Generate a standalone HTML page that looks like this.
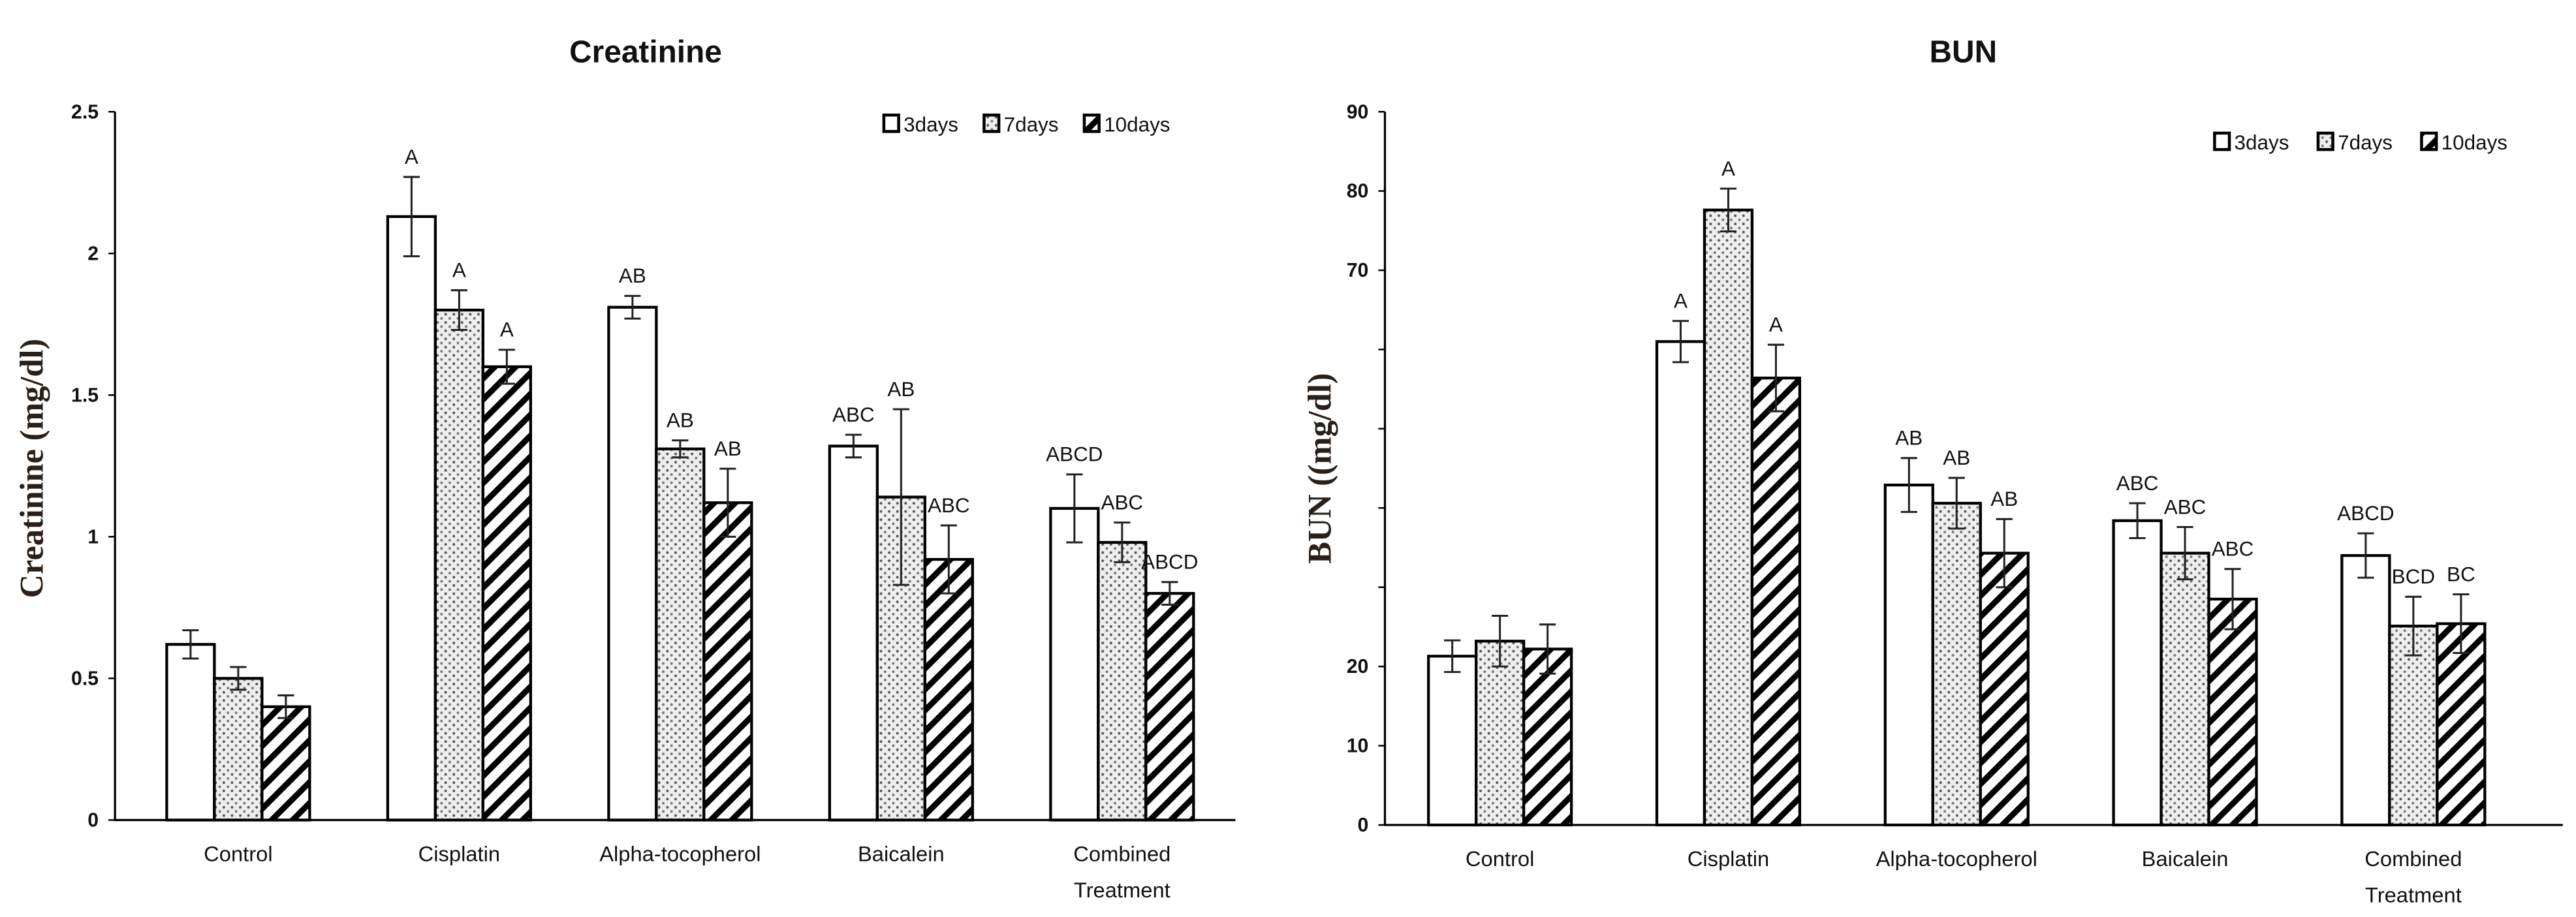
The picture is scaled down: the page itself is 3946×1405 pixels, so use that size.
<!DOCTYPE html>
<html><head><meta charset="utf-8"><style>
html,body{margin:0;padding:0;background:#fff;}
svg{display:block;}
text{font-family:"Liberation Sans",sans-serif;fill:#111;}
text.serif{font-family:"Liberation Serif",serif;}
</style></head><body>
<svg id="chart" width="3946" height="1405" viewBox="0 0 1568 558" preserveAspectRatio="none" xmlns="http://www.w3.org/2000/svg">
<defs>
<pattern id="dots" patternUnits="userSpaceOnUse" width="5" height="5">
<rect width="5" height="5" fill="#eee"/>
<circle cx="1.25" cy="1.25" r="0.8" fill="#555"/>
<circle cx="3.75" cy="3.75" r="0.8" fill="#777"/>
</pattern>
<pattern id="hatch" patternUnits="userSpaceOnUse" width="9" height="9" patternTransform="rotate(45)">
<rect width="9" height="9" fill="#fff"/>
<rect x="0" y="0" width="3.6" height="9" fill="#000"/>
</pattern>
</defs>
<g id="g1"></g>
<g id="g2"></g>
</svg>
<script>
const categories = ["Control","Cisplatin","Alpha-tocopherol","Baicalein","Combined Treatment"];
const seriesNames = ["3days","7days","10days"];
const creat3 = [0.62,2.13,1.81,1.32,1.10];
const creat7 = [0.50,1.80,1.31,1.14,0.98];
const creat10 = [0.40,1.60,1.12,0.92,0.80];
const creatErr3 = [0.05,0.14,0.04,0.04,0.12];
const creatErr7 = [0.04,0.07,0.03,0.31,0.07];
const creatErr10 = [0.04,0.06,0.12,0.12,0.04];
const creatLbl3 = ["","A","AB","ABC","ABCD"];
const creatLbl7 = ["","A","AB","AB","ABC"];
const creatLbl10 = ["","A","AB","ABC","ABCD"];
const creatTicks = [0,0.5,1,1.5,2,2.5];
const creatTickLabels = ["0","0.5","1","1.5","2","2.5"];
const bun3 = [21.3,61.0,42.9,38.4,34.0];
const bun7 = [23.2,77.6,40.6,34.3,25.1];
const bun10 = [22.2,56.4,34.3,28.5,25.4];
const bunErr3 = [2.0,2.6,3.4,2.2,2.8];
const bunErr7 = [3.2,2.7,3.2,3.3,3.7];
const bunErr10 = [3.1,4.2,4.3,3.8,3.7];
const bunLbl3 = ["","A","AB","ABC","ABCD"];
const bunLbl7 = ["","A","AB","ABC","BCD"];
const bunLbl10 = ["","A","AB","ABC","BC"];
const bunTicks = [0,10,20,30,40,50,60,70,80,90];
const bunTickLabels = ["0","10","20","","","","","70","80","90"];

const NS="http://www.w3.org/2000/svg";
function mk(parent,tag,attrs,txt){const e=document.createElementNS(NS,tag);for(const k in attrs)e.setAttribute(k,attrs[k]);if(txt!==undefined)e.textContent=txt;parent.appendChild(e);return e;}
const fills=["#fff","url(#dots)","url(#hatch)"];

function drawChart(g,cfg){
  const yS=v=>cfg.y0-(v/cfg.max)*(cfg.y0-cfg.yTop);
  const xC=i=>cfg.c0+i*cfg.step;
  const t=mk(g,'text',{x:cfg.titleX,y:38,'font-size':19,'font-weight':'bold','text-anchor':'middle'},cfg.title);
  
  
  const yt=mk(g,'text',{x:0,y:0,'class':'serif','font-size':20,'font-weight':'bold','text-anchor':'middle',transform:`translate(${cfg.ytX},${cfg.ytY}) rotate(-90)`,style:'fill:#2a2018'},cfg.yTitle);
  
  
  cfg.ticks.forEach((v,i)=>{
    const y=yS(v);
    const tk=mk(g,'line',{x1:cfg.ax-4,x2:cfg.ax,y1:y,y2:y,stroke:'#000','stroke-width':1});
    
    
    if(cfg.tickLabels[i]!==""){
      const tl=mk(g,'text',{x:cfg.ax-10,y:y+4,'font-size':12,'font-weight':'bold','text-anchor':'end'},cfg.tickLabels[i]);
      
      
    }
  });
  const bw=29;
  cfg.series.forEach((vals,s)=>{
    vals.forEach((v,i)=>{
      const x=xC(i)+(s-1.5)*bw;
      const y=yS(v);
      const r=mk(g,'rect',{x:x,y:y,width:bw,height:cfg.y0-y,fill:fills[s],stroke:'#000','stroke-width':1.7});
      
      
      const e=cfg.errs[s][i], cx=x+bw/2;
      const eb=mk(g,'path',{d:`M${cx},${yS(v+e)}V${yS(v-e)}M${cx-5},${yS(v+e)}h10M${cx-5},${yS(v-e)}h10`,stroke:'#222','stroke-width':1.2,fill:'none'});
      
      
      const lb=cfg.lbls[s][i];
      if(lb){
        const lt=mk(g,'text',{x:cx,y:yS(v+e)-8,'font-size':12.5,'text-anchor':'middle'},lb);
        
        
      }
    });
  });
  const ax=mk(g,'path',{d:`M${cfg.ax},${cfg.yTop}V${cfg.y0}H${cfg.xEnd}`,stroke:'#000','stroke-width':1.3,fill:'none'});
  
  
  categories.forEach((c,i)=>{
    const parts=c==="Combined Treatment"?["Combined","Treatment"]:[c];
    parts.forEach((p,k)=>{
      const xl=mk(g,'text',{x:xC(i),y:cfg.y0+25+k*22,'font-size':13,'text-anchor':'middle'},p);
      
      
    });
  });
  seriesNames.forEach((n,s)=>{
    const lx=cfg.legX+s*cfg.legStep;
    const lg=mk(g,'g',{});
    
    
    mk(lg,'rect',{x:lx,y:cfg.legY-9,width:9,height:10,fill:fills[s],stroke:'#000','stroke-width':1.8});
    mk(lg,'text',{x:lx+12,y:cfg.legY+1,'font-size':12.5},n);
  });
}
drawChart(document.getElementById('g1'),{title:'Creatinine',titleX:393,yTitle:'Creatinine (mg/dl)',ytX:26,ytY:285,
  ax:70,xEnd:752,y0:499,yTop:68,max:2.5,c0:145,step:134.5,ticks:creatTicks,tickLabels:creatTickLabels,
  series:[creat3,creat7,creat10],errs:[creatErr3,creatErr7,creatErr10],lbls:[creatLbl3,creatLbl7,creatLbl10],
  legX:538,legY:79,legStep:61});
drawChart(document.getElementById('g2'),{title:'BUN',titleX:1195,yTitle:'BUN ((mg/dl)',ytX:810,ytY:285,
  ax:843,xEnd:1560,y0:502,yTop:68,max:90,c0:913,step:139,ticks:bunTicks,tickLabels:bunTickLabels,
  series:[bun3,bun7,bun10],errs:[bunErr3,bunErr7,bunErr10],lbls:[bunLbl3,bunLbl7,bunLbl10],
  legX:1348,legY:90,legStep:63});
</script>
</body></html>
